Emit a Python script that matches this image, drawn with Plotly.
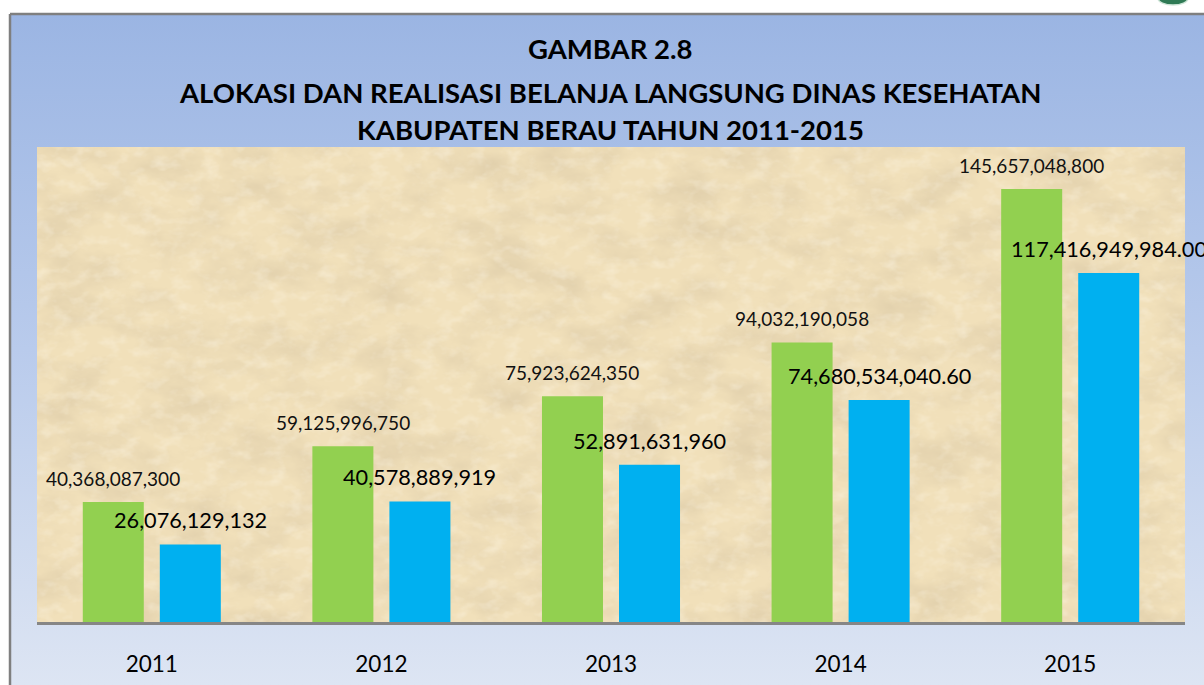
import base64
import plotly.graph_objects as go

# ---- data ----
years = ["2011", "2012", "2013", "2014", "2015"]
alokasi = [40368087300, 59125996750, 75923624350, 94032190058, 145657048800]
realisasi = [26076129132, 40578889919, 52891631960, 74680534040.60, 117416949984.00]
alokasi_labels = ["40,368,087,300", "59,125,996,750", "75,923,624,350",
                  "94,032,190,058", "145,657,048,800"]
realisasi_labels = ["26,076,129,132", "40,578,889,919", "52,891,631,960",
                    "74,680,534,040.60", "117,416,949,984.00"]
title_lines = ["GAMBAR 2.8",
               "ALOKASI DAN REALISASI BELANJA LANGSUNG DINAS KESEHATAN",
               "KABUPATEN BERAU TAHUN 2011-2015"]

GREEN = "#92D050"
BLUE = "#00B0F0"
FONT = "Lato"

W, H = 1204, 685
ML, MR, MT, MB = 37, 19, 147, 63
PW, PH = W - ML - MR, H - MT - MB
BARGAP = 0.329
idx = list(range(len(years)))

def uri(svg):
    return "data:image/svg+xml;base64," + base64.b64encode(svg.encode()).decode()

def px(xp):
    return (xp - ML) / PW

def py(yp):
    return (H - MB - yp) / PH

grad_svg = """<svg xmlns='http://www.w3.org/2000/svg' width='400' height='400' preserveAspectRatio='none'>
<defs><linearGradient id='g' x1='0' y1='0' x2='0' y2='1'>
<stop offset='0' stop-color='#9BB5E3'/><stop offset='0.5' stop-color='#B9CBEC'/>
<stop offset='1' stop-color='#DDE5F3'/></linearGradient></defs>
<rect width='400' height='400' fill='url(#g)'/></svg>"""

tex_svg = f"""<svg xmlns='http://www.w3.org/2000/svg' width='{PW}' height='{PH}'>
<defs>
<filter id='f' x='0' y='0' width='100%' height='100%'>
<feTurbulence type='fractalNoise' baseFrequency='0.016 0.028' numOctaves='5' seed='7'/>
<feColorMatrix type='matrix' values='0 0 0 0 0.70  0 0 0 0 0.58  0 0 0 0 0.38  1.35 0 0 0 -0.53'/>
</filter>
<filter id='h' x='0' y='0' width='100%' height='100%'>
<feTurbulence type='fractalNoise' baseFrequency='0.06 0.09' numOctaves='3' seed='2'/>
<feColorMatrix type='matrix' values='0 0 0 0 1  0 0 0 0 0.96  0 0 0 0 0.86  0.8 0 0 0 -0.38'/>
</filter>
</defs>
<rect width='{PW}' height='{PH}' fill='#F1E0BA'/>
<rect width='{PW}' height='{PH}' filter='url(#f)'/>
<rect width='{PW}' height='{PH}' filter='url(#h)'/></svg>"""

fig = go.Figure()
fig.add_trace(go.Bar(x=idx, y=alokasi, name="Alokasi", marker_color=GREEN,
                     marker_line_width=0, hoverinfo="skip"))
fig.add_trace(go.Bar(x=idx, y=realisasi, name="Realisasi", marker_color=BLUE,
                     marker_line_width=0, hoverinfo="skip"))

slot = PW / len(years) * (1 - BARGAP) / 2
annotations = []
for i, v, t in zip(idx, alokasi, alokasi_labels):
    annotations.append(dict(x=i, y=v, text=t, showarrow=False, xshift=-slot / 2,
                            yshift=24, yanchor="middle",
                            font=dict(family=FONT, size=19, color="#111")))
for i, v, t in zip(idx, realisasi, realisasi_labels):
    annotations.append(dict(x=i, y=v, text=t, showarrow=False, xshift=slot / 2,
                            yshift=24, yanchor="middle",
                            font=dict(family=FONT, size=21.7, color="#000")))
title_y = [48, 93, 129]
for line, yy in zip(title_lines, title_y):
    annotations.append(dict(xref="paper", yref="paper", x=px(W / 2 + 8), y=py(yy),
                            text=f"<b>{line}</b>", showarrow=False, yanchor="middle",
                            xanchor="center",
                            font=dict(family=FONT, size=27.5, color="#000")))

fig.update_layout(
    width=W, height=H,
    margin=dict(l=ML, r=MR, t=MT, b=MB, pad=0),
    paper_bgcolor="white", plot_bgcolor="rgba(0,0,0,0)",
    barmode="group", bargap=BARGAP, bargroupgap=0.208,
    showlegend=False,
    annotations=annotations,
    images=[
        dict(source=uri(grad_svg), xref="paper", yref="paper",
             x=px(10), y=py(14), sizex=(W - 10) / PW, sizey=(H - 14) / PH,
             xanchor="left", yanchor="top", sizing="stretch", layer="below"),
        dict(source=uri(tex_svg), xref="paper", yref="paper", x=0, y=1,
             sizex=1, sizey=1, xanchor="left", yanchor="top",
             sizing="stretch", layer="below"),
    ],
    shapes=[
        dict(type="line", xref="paper", yref="paper",
             x0=px(10), x1=px(W), y0=py(14), y1=py(14),
             line=dict(color="#7F7F7F", width=2.5)),
        dict(type="line", xref="paper", yref="paper",
             x0=px(10), x1=px(10), y0=py(14), y1=py(H),
             line=dict(color="#7F7F7F", width=2.5)),
        dict(type="circle", xref="paper", yref="paper",
             x0=px(1158), x1=px(1188), y0=py(5), y1=py(-8),
             fillcolor="#2F7A55", line=dict(color="#CFE6D8", width=1.5),
             layer="below"),
    ],
)
fig.update_xaxes(range=[-0.5, len(years) - 0.5], tickvals=idx, ticktext=years,
                 showline=True, linecolor="#868686", linewidth=2.5,
                 ticks="outside", ticklen=20, tickcolor="rgba(0,0,0,0)",
                 tickfont=dict(family=FONT, size=22.5, color="#000"),
                 automargin=False, showgrid=False, zeroline=False, fixedrange=True)
fig.update_yaxes(range=[0, 159.8e9], visible=False, showgrid=False, fixedrange=True)

fig.write_html("out.html", config={"displayModeBar": False},
               post_script="document.body.style.margin='0';"
                           "document.body.style.overflow='hidden';")
